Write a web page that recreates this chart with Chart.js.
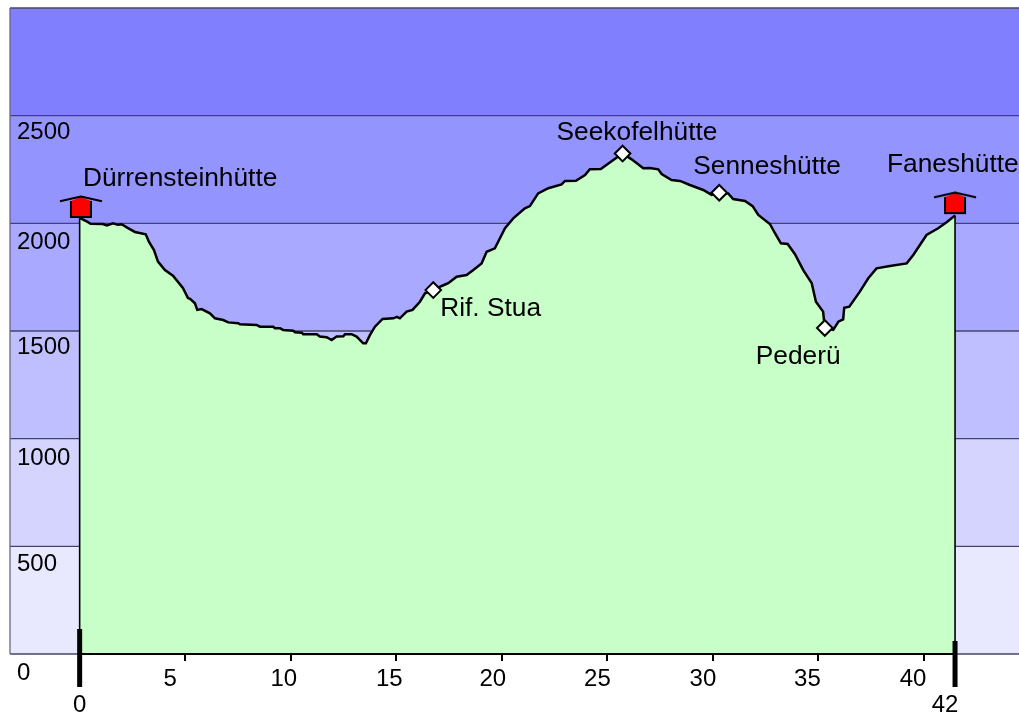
<!DOCTYPE html>
<html>
<head>
<meta charset="utf-8">
<style>html,body{margin:0;padding:0;background:#fff}canvas{display:block}</style>
<script src="https://cdn.jsdelivr.net/npm/chart.js@4/dist/chart.umd.min.js"></script>
</head>
<body>
<canvas id="c" width="1019" height="715"></canvas>
<script>
const profileKm = [0,0.35,0.52,1.10,1.29,1.58,1.81,1.99,2.29,2.62,3.13,3.28,3.52,3.71,4.04,4.42,4.89,5.13,5.23,5.46,5.57,5.78,6.17,6.41,6.80,7.04,7.51,7.59,8.38,8.54,9.17,9.25,9.49,9.64,10.12,10.20,10.52,10.59,11.23,11.38,11.70,11.94,12.17,12.49,12.57,12.88,13.12,13.43,13.56,13.75,13.99,14.35,14.86,15.03,15.17,15.49,15.77,16.12,16.36,16.75,17.15,17.46,17.86,18.33,18.65,19.04,19.28,19.67,19.91,20.15,20.54,21.09,21.33,21.72,22.20,22.83,22.99,23.51,23.94,24.17,24.69,25.28,25.72,26.15,26.70,27.01,27.41,27.57,28.04,28.44,28.91,29.54,29.94,30.30,30.72,30.96,31.52,31.88,32.15,32.70,32.94,33.22,33.54,33.88,34.28,34.68,34.88,35.22,35.30,35.70,35.94,36.17,36.22,36.46,36.96,37.36,37.75,38.38,39.18,39.49,40.12,40.67,41.07,41.47];
const profileElev = [2025,2008,1998,1997,1990,2000,1993,1996,1978,1960,1949,1915,1876,1822,1783,1757,1700,1653,1649,1629,1598,1602,1582,1559,1551,1540,1536,1531,1528,1520,1520,1513,1513,1505,1501,1494,1492,1485,1485,1474,1471,1458,1474,1475,1485,1485,1474,1443,1443,1481,1520,1556,1559,1566,1559,1590,1598,1636,1675,1690,1709,1722,1752,1760,1783,1814,1868,1884,1931,1977,2023,2070,2080,2139,2163,2181,2197,2198,2224,2251,2252,2294,2324,2297,2256,2257,2251,2229,2201,2197,2178,2155,2132,2142,2139,2113,2104,2080,2039,1997,1954,1907,1904,1858,1783,1722,1636,1590,1514,1505,1543,1554,1608,1613,1683,1745,1791,1802,1814,1853,1946,1977,2005,2036];

const waypointNames = ["Rif. Stua","Seekofelhütte","Senneshütte","Pederü"];
const waypointKm = [16.75,25.72,30.30,35.30];
const waypointElev = [1690,2324,2142,1514];
const waypointLabelDx = [7,-66,-26,-69];
const waypointLabelDy = [19,-21,-26,29];

const endNames = ["Dürrensteinhütte","Faneshütte"];
const endKm = [0.06,41.47];
const endElev = [2025,2043];
const endLabelDx = [2,-68];
const endLabelDy = [-39,-49];

const bandTops = [3000,2500,2000,1500,1000,500,0];
const bandBottoms = [2500,2000,1500,1000,500,0,0];
const bandColors = ["#8080FF","#9494FF","#A9A9FF","#BFBFFF","#D4D4FF","#E8E8FF","#E8E8FF"];

const xTickValues = [0,5,10,15,20,25,30,35,40,41.47];
const xTickLabels = ["0","5","10","15","20","25","30","35","40","42"];
const xLabelDx = [0,-15,-7,-7,-9,-10,-10,-11,-11,-10];
const xLabelDy = [26,0,0,0,0,0,0,0,0,26];
const yTickValues = [0,500,1000,1500,2000,2500,3000];
const yTickLabels = ["0","500","1000","1500","2000","2500",""];
const yLabelDy = [2,1,3,-1,2,0,0];

const startBar = {km:0,top:116,bottom:-153};
const endBar = {km:41.47,top:60,bottom:-153};

const xMin = -3.30, xMax = 44.50;
const FONT = '"Liberation Sans", Arial, sans-serif';

function flagCanvas(){
  const c = document.createElement('canvas'); c.width = 46; c.height = 46;
  const g = c.getContext('2d');
  g.fillStyle = '#f00';
  g.beginPath();
  g.moveTo(13,6); g.lineTo(23,2); g.lineTo(33,6); g.lineTo(33,22); g.lineTo(13,22); g.closePath(); g.fill();
  g.strokeStyle = '#000'; g.lineWidth = 2;
  g.beginPath(); g.moveTo(13,6); g.lineTo(13,22); g.lineTo(33,22); g.lineTo(33,6); g.stroke();
  g.lineJoin = 'round';
  g.beginPath(); g.moveTo(2,6.3); g.lineTo(23,1.5); g.lineTo(44,6.3); g.stroke();
  return c;
}

const datasets = [];
bandTops.forEach((top,i)=>{
  datasets.push({
    data:[{x:xMin,y:top},{x:xMax,y:top}],
    borderColor:'#44446a', borderWidth:1.3,
    backgroundColor:bandColors[i],
    fill:{target:{value:bandBottoms[i]}},
    pointRadius:0, order:20-i, clip:false
  });
});
datasets.push({
  data:[{x:xMin,y:0},{x:xMin,y:3000}],
  borderColor:'#666688', borderWidth:1.3, fill:false,
  pointRadius:0, order:8, clip:false
});
const lastKm = profileKm[profileKm.length-1];
const firstKm = profileKm[0];
const openKm = [firstKm,...profileKm,lastKm];
const openElev = [0,...profileElev,0];
datasets.push({
  data:openKm.map((k,i)=>({x:k,y:openElev[i]})),
  borderWidth:0, borderColor:'rgba(0,0,0,0)',
  backgroundColor:'#C8FFC8', fill:{target:{value:0}},
  pointRadius:0, order:6, clip:false
});
datasets.push({
  data:profileKm.map((k,i)=>({x:k,y:profileElev[i]})),
  borderColor:'#000', borderWidth:2.5, borderJoinStyle:'miter', fill:false,
  pointRadius:0, order:4, clip:false
});
[[firstKm,profileElev[0]],[lastKm,profileElev[profileElev.length-1]]].forEach(p=>{
  datasets.push({
    data:[{x:p[0],y:p[1]},{x:p[0],y:0}],
    borderColor:'#000', borderWidth:1.6, fill:false,
    pointRadius:0, order:4, clip:false
  });
});
datasets.push({
  data:[{x:firstKm,y:0},{x:lastKm,y:0}],
  borderColor:'#000', borderWidth:2.2, fill:false,
  pointRadius:0, order:4, clip:false
});
[startBar,endBar].forEach(b=>{
  datasets.push({
    data:[{x:b.km,y:b.top},{x:b.km,y:b.bottom}],
    borderColor:'#000', borderWidth:5, fill:false,
    pointRadius:0, order:3, clip:false
  });
});
datasets.push({
  data:waypointKm.map((k,i)=>({x:k,y:waypointElev[i]})),
  showLine:false, pointStyle:'rectRot', pointRadius:7.8,
  pointBackgroundColor:'#fff', pointBorderColor:'#000', pointBorderWidth:2,
  order:1, clip:false
});
datasets.push({
  data:endKm.map((k,i)=>({x:k,y:endElev[i]})),
  showLine:false, pointStyle:flagCanvas(), pointRadius:23,
  order:1, clip:false
});

const placeLabels = {
  id:'placeLabels',
  beforeDraw(chart){
    const xs = chart.scales.x, ys = chart.scales.y;
    xs.getLabelItems(chart.chartArea).forEach((it,i)=>{
      it.options.translation = [it.options.translation[0]+xLabelDx[i], it.options.translation[1]+xLabelDy[i]];
    });
    ys.getLabelItems(chart.chartArea).forEach((it,i)=>{
      it.options.translation = [it.options.translation[0], it.options.translation[1]+yLabelDy[i]];
    });
  },
  afterDatasetsDraw(chart){
    const xs = chart.scales.x, ys = chart.scales.y, g = chart.ctx;
    g.save();
    g.font = '26.3px '+FONT; g.fillStyle = '#000';
    g.textAlign = 'left'; g.textBaseline = 'middle';
    waypointNames.forEach((n,i)=>{
      g.fillText(n, xs.getPixelForValue(waypointKm[i])+waypointLabelDx[i], ys.getPixelForValue(waypointElev[i])+waypointLabelDy[i]);
    });
    endNames.forEach((n,i)=>{
      g.fillText(n, xs.getPixelForValue(endKm[i])+endLabelDx[i], ys.getPixelForValue(endElev[i])+endLabelDy[i]);
    });
    g.restore();
  }
};

new Chart(document.getElementById('c'),{
  type:'line',
  data:{datasets},
  plugins:[placeLabels],
  options:{
    responsive:false, animation:false, events:[],
    layout:{autoPadding:false,padding:{left:10,right:0,top:8,bottom:0}},
    plugins:{legend:{display:false},tooltip:{enabled:false},title:{display:false}},
    elements:{line:{tension:0}},
    scales:{
      x:{
        type:'linear', min:xMin, max:xMax,
        afterBuildTicks(s){ s.ticks = xTickValues.map(v=>({value:v})); },
        afterFit(s){ s.height = 61; },
        grid:{drawOnChartArea:false,color:'#000',lineWidth:2,tickLength:7,tickColor:'#000',tickWidth:2},
        border:{display:false},
        ticks:{
          autoSkip:false, maxRotation:0, minRotation:0, padding:4, color:'#000',
          font:{family:FONT,size:24},
          callback(v,i){ return xTickLabels[i]; }
        }
      },
      y:{
        type:'linear', min:0, max:3000,
        afterBuildTicks(s){ s.ticks = yTickValues.map(v=>({value:v})); },
        afterFit(s){ s.width = 0; },
        grid:{drawOnChartArea:false,drawTicks:false},
        border:{display:false},
        ticks:{
          autoSkip:false, mirror:true, align:'start', padding:7, labelOffset:5, z:1, color:'#000',
          font:{family:FONT,size:24},
          callback(v,i){ return yTickLabels[i]; }
        }
      }
    }
  }
});
</script>
</body>
</html>
